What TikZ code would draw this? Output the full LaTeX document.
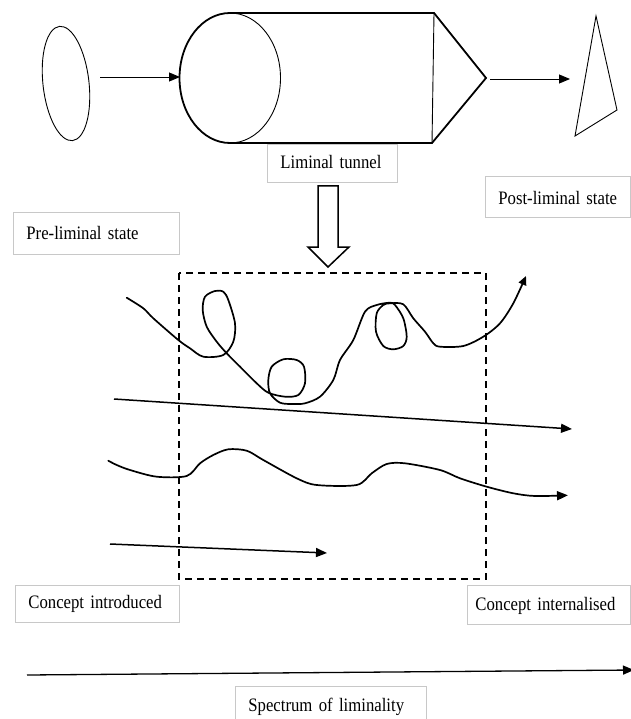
\documentclass[tikz,border=0pt]{standalone}
\usepackage{fontspec}
\setmainfont[FakeStretch=0.88]{Liberation Serif}
\usetikzlibrary{arrows.meta,shapes.geometric}
\definecolor{boxgray}{RGB}{200,200,200}
\begin{document}
\begin{tikzpicture}[x=1pt,y=-1pt,
  fine/.style={line width=0.9pt},
  bold/.style={line width=1.8pt, line join=miter},
  hand/.style={line width=1.7pt, line join=round, line cap=round},
  arr/.style={-{Triangle[length=11pt,width=9pt]}},
  smallarr/.style={-{Triangle[length=9pt,width=8pt]}},
  tag/.style={draw=boxgray, line width=0.8pt, anchor=north west,
    inner xsep=13pt, inner ysep=0pt, align=left,
    font=\fontsize{19}{21}\selectfont}]
\useasboundingbox (0,0) rectangle (630,719);

% ---- top row: oval -> tunnel -> triangle
\node[draw, fine, ellipse, minimum width=46pt, minimum height=115pt,
      inner sep=0pt, rotate=6.5] (oval) at (66,83.5) {};
\coordinate (ovalOut) at (100,77);
\coordinate (tubeIn) at (180,77);
\coordinate (tubeOut) at (490,79);
\coordinate (triIn) at (570,79);

% tunnel body
\draw[bold] (230,13) arc[start angle=270, end angle=90, x radius=50.5, y radius=65]
  -- (432,143) -- (486,78) -- (434,13) -- cycle;
\draw[fine] (230,13) arc[start angle=-90, end angle=90, x radius=50.5, y radius=65];
\draw[fine] (434,13) -- (432,143);

% triangle
\draw[fine] (596,16) -- (617,110) -- (575,136) -- cycle;

\draw[fine, arr] (ovalOut) -- (tubeIn);
\draw[fine, arr] (tubeOut) -- (triIn);

% ---- labels
\node[tag, text width=104pt, minimum height=38pt, text depth=2pt] (tunnel) at (267,144) {Liminal tunnel};
\node[tag, text width=119pt, minimum height=41pt, text height=16pt] (post) at (485,176) {Post-liminal state};
\node[tag, text width=140pt, minimum height=42pt] (pre) at (13,212) {Pre-liminal state};
\node[tag, text width=138pt, minimum height=37pt] (intro) at (15,585) {Concept introduced};
\node[tag, text width=147pt, inner xsep=8pt, minimum height=39pt, text height=15pt] (intern) at (467,585) {Concept internalised};
\node[tag, text width=165pt, minimum height=40pt] (spec) at (235,686) {Spectrum of liminality};

% ---- hollow arrow down into the liminal zone
\draw[line width=1.5pt, line join=miter] (318,186) -- (338,186) -- (338,247) -- (349,247)
  -- (328,267) -- (308,247) -- (318,247) -- cycle;

% ---- dashed liminal zone
\draw[line width=1.8pt, dash pattern=on 7pt off 5pt] (179,273) rectangle (486,579);

% ---- loopy learner path
\draw[hand, smallarr] plot[smooth, tension=0.5] coordinates {
  (126.7,297.7) (143.3,308.3) (153.3,318.3) (178.3,340) (190,348.3) (203.3,356.7)
  (223.3,355) (233.3,341.7) (235,323.3) (228.3,300) (223.3,291.7) (215,291)
  (205,296.7) (202.7,310) (206.7,326.7) (216.7,341.7) (226.7,353.3) (240,366.7)
  (256.7,383.3) (268.3,392.7) (285,396.7) (298.3,395) (305,383.3) (304,366.7)
  (296.7,360) (283.3,359.3) (271.7,366.7) (268.3,380) (270,393.3) (280,402.7)
  (293.3,404) (305,403.3) (320,396.7) (333.3,380) (340,360) (353.3,340)
  (365,311.7) (376.7,305) (390,302.7) (395,305) (403.3,318.3) (406.7,336.7)
  (403.3,346) (393.3,349.3) (383.3,346) (376,331.7) (376.7,313.3) (383.3,305)
  (390,303.3) (403.3,304.3) (413.3,318.3) (425,331.7) (433.3,343.3) (440,346.7)
  (463.3,346) (483.3,336.7) (500,323.3) (513.3,303.3) (526,276)};

% ---- straight path
\coordinate (s1a) at (114,399);
\coordinate (s1b) at (572,429);
\draw[line width=1.5pt, arr] (s1a) -- (s1b);

% ---- wavy path
\draw[hand, arr] plot[smooth, tension=0.5] coordinates {
  (108.3,460.7) (116.7,465) (130,470) (156.7,476.7) (186.7,476) (200,463.3)
  (213.3,455) (228.3,449.3) (246.7,450.7) (263.3,460) (296.7,478.3) (316.7,485)
  (356.7,485) (371.7,473.3) (386.7,464) (405,463.3) (440,470) (460,478.3)
  (486.7,486.7) (513.3,493.3) (535,496) (568,495.3)};

% ---- short path
\coordinate (s2a) at (110,544);
\coordinate (s2b) at (327,553);
\draw[line width=1.5pt, arr] (s2a) -- (s2b);

% ---- spectrum axis
\coordinate (axA) at (27,675);
\coordinate (axB) at (634,670);
\draw[line width=1.3pt, arr] (axA) -- (axB);
\end{tikzpicture}
\end{document}
